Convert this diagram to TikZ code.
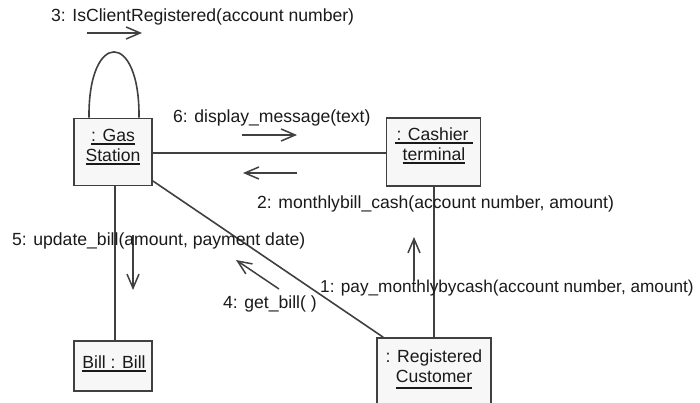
\documentclass[tikz,border=0pt]{standalone}
\usepackage{fontspec}
\setmainfont{Liberation Sans}
\usetikzlibrary{arrows.meta}
\definecolor{boxfill}{HTML}{F7F7F7}
\definecolor{linec}{HTML}{404040}
\definecolor{txt}{HTML}{1A1A1A}
\newcommand\ulxd[2]{\setbox0\hbox{#2}\rlap{\rule[-#1]{\wd0}{1.8pt}}\box0}
\newcommand\ulx[1]{\ulxd{3.8pt}{#1}}
\begin{document}
\begin{tikzpicture}[x=1pt,y=-1pt,
  obj/.style={draw=linec,fill=boxfill,line width=1.6pt,inner sep=0pt,rectangle},
  lbl/.style={text=txt,font=\fontsize{17.6}{20}\selectfont,inner sep=0pt},
  link/.style={draw=linec,line width=1.6pt},
  msg/.style={draw=linec,line width=1.5pt,-{Straight Barb[length=14pt,width=12pt,line width=1.5pt]}}]
\clip (0,0) rectangle (700,403);
\fill[white] (0,0) rectangle (700,403);
% object boxes
\node[obj,minimum width=78pt,minimum height=67pt] (gas) at (113,152) {};
\node[obj,minimum width=94pt,minimum height=68pt] (cash) at (433.5,152) {};
\node[obj,minimum width=78pt,minimum height=50pt] (bill) at (113,366) {};
\node[obj,minimum width=114pt,minimum height=100pt] (cust) at (434,388) {};
% box texts
\node[lbl,align=center] (gastxt) at (113,147) {\ulx{: Gas}\\\ulx{Station}};
\node[lbl,align=center] (cashtxt) at (434,146) {\ulx{\kern2pt: Cashier\ }\\\ulx{terminal}};
\node[lbl] (billtxt) at (114,364) {\ulx{Bill : Bill}};
\node[lbl,align=center] (custtxt) at (434,369) {: Registered\\\ulxd{6.5pt}{Customer}};
% links
\draw[link] (gas.east |- 0,153) -- (cash.west |- 0,153);
\draw[link] (gas.south -| 115,0) -- (bill.north -| 115,0);
\draw[link] (cash.south -| 434,0) -- (cust.north -| 434,0);
\draw[link] (gas.-36) -- (cust.135);
\draw[link] ([xshift=-24pt]gas.north) .. controls (88,30) and (140,30) .. ([xshift=26pt]gas.north);
% message arrows
\coordinate (m3s) at (87,33);  \coordinate (m3e) at (142,33);
\coordinate (m6s) at (242,135); \coordinate (m6e) at (297,135);
\coordinate (m2s) at (297,173); \coordinate (m2e) at (243,173);
\coordinate (m1s) at (414,281); \coordinate (m1e) at (414,237);
\coordinate (m5s) at (133,235); \coordinate (m5e) at (133,290);
\coordinate (m4s) at (279,289); \coordinate (m4e) at (236,260);
\draw[msg] (m3s) -- (m3e);
\draw[msg] (m6s) -- (m6e);
\draw[msg] (m2s) -- (m2e);
\draw[msg] (m1s) -- (m1e);
\draw[msg] (m5s) -- (m5e);
\draw[msg] (m4s) -- (m4e);
% message labels
\node[lbl,anchor=west] (l3) at (51,17) {3: IsClientRegistered(account number)};
\node[lbl,anchor=west] (l6) at (173,118) {6: display\_message(text)};
\node[lbl,anchor=west] (l2) at (257,204) {2: monthlybill\_cash(account number, amount)};
\node[lbl,anchor=west,font=\fontsize{17.2}{20}\selectfont] (l1) at (320,288) {1: pay\_monthlybycash(account number, amount)};
\node[lbl,anchor=west] (l5) at (12,241) {5: update\_bill(amount, payment date)};
\node[lbl,anchor=west] (l4) at (223,304) {4: get\_bill( )};
\end{tikzpicture}
\end{document}
